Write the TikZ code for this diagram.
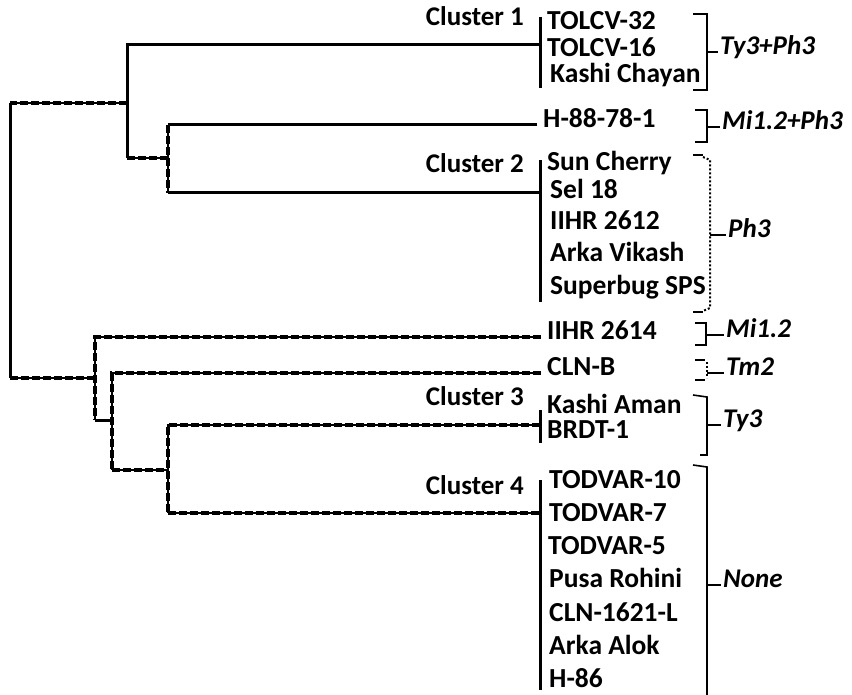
\documentclass[tikz,border=0pt]{standalone}
\usepackage{fontspec}
\setmainfont{Carlito}
\usepackage{tikz}

\begin{document}
\begin{tikzpicture}[x=1pt,y=-1pt,
    branch/.style={draw=black,line width=3pt},
    dbranch/.style={draw=black,line width=2pt,
                    postaction={draw,line width=3.4pt,dash pattern=on 8pt off 3pt}},
    bar/.style={draw=black,line width=3pt},
    brk/.style={draw=black,line width=1.6pt},
    dbrk/.style={draw=black,line width=2pt,dotted},
    leaf/.style={anchor=west,inner xsep=6pt,inner ysep=0pt,font=\bfseries\fontsize{27.5}{30}\selectfont,
                 text height=0.68em,text depth=0.2em},
    clu/.style={anchor=east,inner sep=0pt,font=\bfseries\fontsize{27}{30}\selectfont,
                text height=0.68em,text depth=0.2em},
    gene/.style={anchor=west,inner xsep=2pt,inner ysep=0pt,font=\bfseries\itshape\fontsize{27}{30}\selectfont,
                 text height=0.68em,text depth=0.2em},
  ]
    \useasboundingbox (0,0) rectangle (852,695);

    % leaves
    \node[leaf] (tolcv32)    at (541,27)  {TOLCV-32};
    \node[leaf] (tolcv16)    at (541,54)  {TOLCV-16};
    \node[leaf] (kchayan)    at (544,80)  {Kashi Chayan};
    \node[leaf] (h88)        at (537,125) {H-88-78-1};
    \node[leaf] (suncherry)  at (541,168) {Sun Cherry};
    \node[leaf] (sel18)      at (544,196) {Sel 18};
    \node[leaf] (iihr2612)   at (544,227) {IIHR 2612};
    \node[leaf] (arkavikash) at (544,259) {Arka Vikash};
    \node[leaf] (superbug)   at (544,292) {Superbug SPS};
    \node[leaf] (iihr2614)   at (541,337) {IIHR 2614};
    \node[leaf] (clnb)       at (541,373) {CLN-B};
    \node[leaf] (kaman)      at (541,411) {Kashi Aman};
    \node[leaf] (brdt)       at (541,436) {BRDT-1};
    \node[leaf] (todvar10)   at (543,486) {TODVAR-10};
    \node[leaf] (todvar7)    at (543,519) {TODVAR-7};
    \node[leaf] (todvar5)    at (542,552) {TODVAR-5};
    \node[leaf] (pusa)       at (543,585) {Pusa Rohini};
    \node[leaf] (cln1621)    at (543,619) {CLN-1621-L};
    \node[leaf] (arkaalok)   at (543,652) {Arka Alok};
    \node[leaf] (h86)        at (543,685) {H-86};

    % cluster labels
    \node[clu] (lc1) at (524,23)  {Cluster 1};
    \node[clu] (lc2) at (524,170) {Cluster 2};
    \node[clu] (lc3) at (524,403) {Cluster 3};
    \node[clu] (lc4) at (524,492) {Cluster 4};

    % cluster bars
    \coordinate (c1t) at (540,17);  \coordinate (c1b) at (540,88);  \coordinate (c1) at (540,45);
    \coordinate (c2t) at (540,160); \coordinate (c2b) at (540,302); \coordinate (c2) at (540,193);
    \coordinate (c3t) at (540,410); \coordinate (c3b) at (540,443); \coordinate (c3) at (540,425);
    \coordinate (c4t) at (540,480); \coordinate (c4b) at (540,690); \coordinate (c4) at (540,513);
    \foreach \c in {c1,c2,c3,c4}
      \draw[bar] (\c t) -- (\c b);

    % tree joints
    \coordinate (rootT) at (10,103);  \coordinate (rootB) at (10,378);
    \coordinate (nA)  at (127,103);   \coordinate (nAb) at (127,158);
    \coordinate (nBt) at (168,125);   \coordinate (nBb) at (168,158);  \coordinate (nBd) at (168,193);
    \coordinate (nC)  at (95,378);    \coordinate (nCb) at (95,420);
    \coordinate (nDb) at (112,420);   \coordinate (nDd) at (112,470);
    \coordinate (nEd) at (168,470);   \coordinate (nEb) at (168,513);

    % upper part
    \draw[branch]  (rootT) -- (rootB);
    \draw[dbranch] (nA) -- (rootT);
    \draw[branch]  (c1) -| (nAb);
    \draw[dbranch] (nAb) -- (nBb);
    \draw[branch]  (h88.west) -- (nBt);
    \draw[dbranch] (nBt) -- (nBd);
    \draw[branch]  (nBd) -- (c2);

    % lower part
    \draw[dbranch] (rootB) -- (nC);
    \draw[dbranch] (iihr2614.west) -| (nCb);
    \draw[branch]  (nCb) -- (nDb);
    \draw[dbranch] (clnb.west) -| (nDd);
    \draw[dbranch] (nDd) -- (nEd);
    \draw[dbranch] (c3) -| (nEb);
    \draw[dbranch] (nEb) -- (c4);

    % resistance genes
    \node[gene] (g1) at (718,52)  {Ty3+Ph3};
    \node[gene] (g2) at (720,127) {Mi1.2+Ph3};
    \node[gene] (g3) at (726,235) {Ph3};
    \node[gene] (g4) at (724,335) {Mi1.2};
    \node[gene] (g5) at (724,373) {Tm2};
    \node[gene] (g6) at (721,425) {Ty3};
    \node[gene] (g7) at (721,585) {None};

    \draw[brk]  (693,14) -- (707,14) -- (707,90) -- (693,90);
    \draw[brk]  (707,52) -- (g1.west);
    \draw[brk]  (695,110) -- (707,110) -- (707,142) -- (695,142);
    \draw[brk]  (707,127) -- (g2.west);
    \draw[brk]  (693,155) -- (703,155);
    \draw[dbrk] (703,157) -- (710,160) -- (710,308) -- (703,311);
    \draw[brk]  (693,312) -- (703,312);
    \draw[brk]  (710,235) -- (g3.west);
    \draw[brk]  (695,323) -- (706,323) -- (706,345) -- (695,345);
    \draw[brk]  (706,335) -- (g4.west);
    \draw[brk]  (695,360) -- (705,360);
    \draw[dbrk] (707,362) -- (707,378);
    \draw[brk]  (695,380) -- (705,380);
    \draw[brk]  (707,373) -- (g5.west);
    \draw[brk]  (693,395) -- (707,397) -- (707,455) -- (700,455);
    \draw[brk]  (707,425) -- (g6.west);
    \draw[brk]  (693,465) -- (707,467) -- (707,695);
    \draw[brk]  (707,585) -- (g7.west);

  \end{tikzpicture}
\end{document}
